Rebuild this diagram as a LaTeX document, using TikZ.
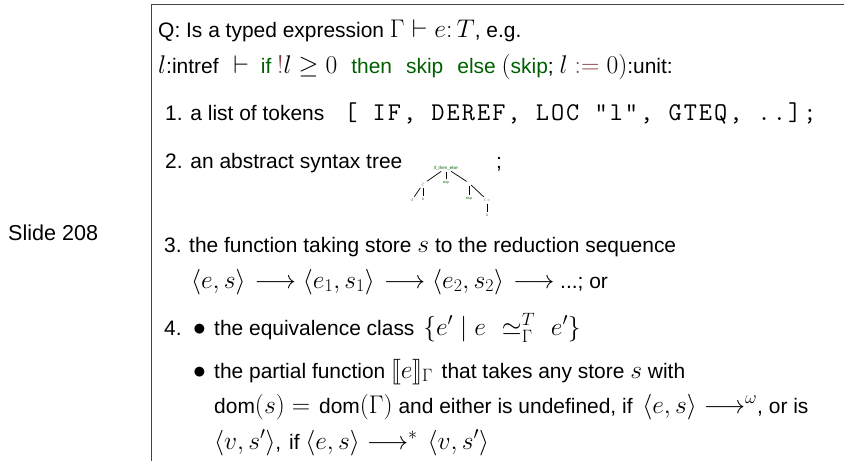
\RequirePackage{fix-cm}
\documentclass[tikz,border=0pt]{standalone}
\usepackage{fontspec}
\usepackage{amsmath,amssymb}
\setmainfont[Scale=0.82]{Liberation Sans}
\setmonofont[LetterSpace=8]{Latin Modern Mono}
\definecolor{kw}{RGB}{0,95,0}
\definecolor{op}{RGB}{130,60,60}
\definecolor{rule}{RGB}{70,70,70}
\newcommand{\kwd}[1]{\textcolor{kw}{#1}}
\newcommand{\lsem}{[\kern-0.15em[}
\newcommand{\rsem}{]\kern-0.15em]}
\newcommand{\numb}[1]{\makebox[29pt][l]{#1}}
\newcommand{\bull}{\makebox[21pt][l]{$\bullet$}}
\newcommand{\wgap}{\hspace{14pt}}
\tikzset{txt/.style={anchor=base west,inner sep=0pt,font=\fontsize{25.55}{28}\selectfont},
 tiny/.style={inner sep=0pt,font=\fontsize{4.2}{5}\selectfont},
 treeline/.style={line width=0.7pt,black}}
\begin{document}
\begin{tikzpicture}[x=1pt,y=-1pt]
\useasboundingbox (0,0) rectangle (844,461);
\draw[rule,line width=1pt] (151,461) -- (151,4) -- (844,4);
\node[txt] (q) at (158,37) {Q: Is a typed expression $\Gamma\vdash e{:}\,T$, e.g.};
\node[txt] (ex) at (158,73) {$l$:intref\hspace{9pt} $\vdash$\hspace{6pt} \kwd{if} $\textcolor{op}{!}l\geq 0$\wgap\kwd{then}\wgap\kwd{skip}\wgap\kwd{else} $($\kwd{skip}; $l\mathrel{\textcolor{op}{:=}}0)$:unit:};
\node[txt] (a) at (165,120) {1. a list of tokens\hspace{20pt}\texttt{[ IF, DEREF, LOC "l", GTEQ, ..];}};
\node[txt] (b) at (165,168) {2. an abstract syntax tree};
\node[txt] (semi) at (496,168) {;};
\node[txt,font=\fontsize{26.3}{28}\selectfont] (s) at (8,240) {Slide 208};
\node[txt] (c) at (164,252) {\makebox[25pt][l]{3.}the function taking store $s$ to the reduction sequence};
\node[txt] (d) at (191,288) {$\langle e,s\rangle\kern2pt\longrightarrow\langle e_1,s_1\rangle\kern2pt\longrightarrow\langle e_2,s_2\rangle\kern2pt\longrightarrow$ ...; or};
\node[txt] (e) at (164,335) {\numb{4.}\bull the equivalence class\hspace{3pt} $\{e'\mid e\hspace{3pt}\ \simeq^{T}_{\Gamma}\hspace{3pt}\ e'\}$};
\node[txt] (f) at (193,378) {\bull the partial function $\lsem e\rsem_\Gamma$\hspace{3pt} that takes any store $s$ with};
\node[txt] (g) at (214,413) {dom$(s)=$\hspace{3pt} dom$(\Gamma)$ and either is undefined, if\hspace{4pt} $\langle e,s\rangle\longrightarrow^{\omega}$, or is};
\node[txt] (h) at (214,449) {$\langle v,s'\rangle$,\hspace{2pt} if $\langle e,s\rangle\longrightarrow^{*}\kern3pt\langle v,s'\rangle$};
\node[tiny,text=kw,font=\fontsize{5.4}{6}\selectfont] (t0) at (446,168) {if\_then\_else};
\node[tiny,text=black!60] (t1) at (423,184) {$\geq$};
\node[tiny,text=kw] (t2) at (446,183) {skip};
\node[tiny,text=black!60] (t3) at (469,183) {;};
\node[tiny,text=op] (t4) at (412,200) {!$l$};
\node[tiny,text=black!70] (t5) at (423,199) {0};
\node[tiny,text=kw] (t6) at (469,199) {skip};
\node[tiny,text=op] (t7) at (487,200) {$l$ :=};
\node[tiny,text=black!70] (t8) at (487,215) {0};
\foreach \u/\v in {t0/t1,t0/t2,t0/t3,t1/t4,t1/t5,t3/t6,t3/t7,t7/t8}{\draw[treeline,shorten >=2pt,shorten <=2pt] (\u) -- (\v);}
\end{tikzpicture}
\end{document}
